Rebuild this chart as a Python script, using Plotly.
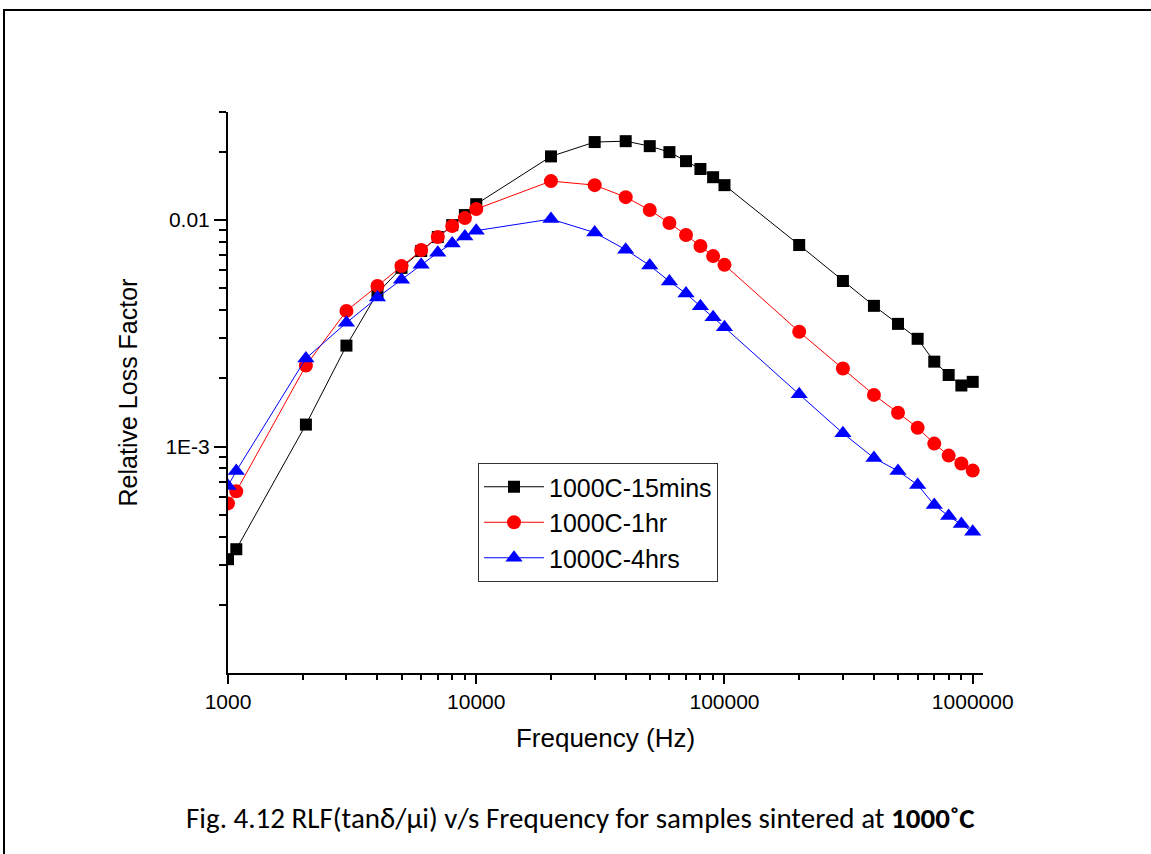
import plotly.graph_objects as go

freq = [1000, 1080, 2060, 3000, 4000, 5000, 6000, 7000, 8000, 9000, 10000,
        20000, 30000, 40000, 50000, 60000, 70000, 80000, 90000, 100000,
        200000, 300000, 400000, 500000, 600000, 700000, 800000, 900000, 1000000]

rlf_15min = [3.18e-4, 3.52e-4, 1.25e-3, 2.79e-3, 4.76e-3, 6.15e-3, 7.30e-3, 8.41e-3, 9.50e-3, 1.052e-2, 1.175e-2,
             1.91e-2, 2.21e-2, 2.23e-2, 2.12e-2, 1.995e-2, 1.82e-2, 1.68e-2, 1.546e-2, 1.426e-2,
             7.76e-3, 5.38e-3, 4.18e-3, 3.48e-3, 2.99e-3, 2.37e-3, 2.07e-3, 1.86e-3, 1.93e-3]

rlf_1hr = [5.61e-4, 6.34e-4, 2.28e-3, 3.97e-3, 5.12e-3, 6.26e-3, 7.38e-3, 8.41e-3, 9.41e-3, 1.02e-2, 1.118e-2,
           1.486e-2, 1.426e-2, 1.262e-2, 1.107e-2, 9.70e-3, 8.59e-3, 7.68e-3, 6.93e-3, 6.34e-3,
           3.21e-3, 2.21e-3, 1.69e-3, 1.41e-3, 1.21e-3, 1.03e-3, 9.12e-4, 8.41e-4, 7.83e-4]

rlf_4hrs = [6.70e-4, 7.80e-4, 2.45e-3, 3.52e-3, 4.55e-3, 5.45e-3, 6.35e-3, 7.18e-3, 7.88e-3, 8.45e-3, 8.98e-3,
            1.01e-2, 8.80e-3, 7.40e-3, 6.30e-3, 5.36e-3, 4.74e-3, 4.16e-3, 3.72e-3, 3.36e-3,
            1.70e-3, 1.145e-3, 8.90e-4, 7.80e-4, 6.77e-4, 5.52e-4, 4.93e-4, 4.55e-4, 4.20e-4]

series_names = ["1000C-15mins", "1000C-1hr", "1000C-4hrs"]

x_tickvals = [1000, 10000, 100000, 1000000]
x_ticktext = ["1000", "10000", "100000", "1000000"]
y_tickvals = [0.001, 0.01]
y_ticktext = ["1E-3", "0.01"]

caption = "Fig. 4.12 RLF(tanδ/μi) v/s Frequency for samples sintered at <b>1000˚C</b>"

FONT = "Liberation Sans, Arial, sans-serif"

fig = go.Figure()
fig.add_trace(go.Scatter(x=freq, y=rlf_15min, mode="lines+markers", name=series_names[0],
                         line=dict(color="black", width=1),
                         marker=dict(symbol="square", size=12, color="black")))
fig.add_trace(go.Scatter(x=freq, y=rlf_1hr, mode="lines+markers", name=series_names[1],
                         line=dict(color="#ff0000", width=1),
                         marker=dict(symbol="circle", size=14, color="#ff0000")))
fig.add_trace(go.Scatter(x=freq, y=rlf_4hrs, mode="lines+markers", name=series_names[2],
                         line=dict(color="#0000ff", width=1),
                         marker=dict(symbol="triangle-up", size=15, color="#0000ff")))

x_minor = [m * 10 ** e for e in (3, 4, 5) for m in range(2, 10)]
y_minor = [m * 10 ** e for e in (-4, -3) for m in range(2, 10)] + [0.02, 0.03]

fig.update_xaxes(type="log", range=[3, 6.0414], showline=True, linecolor="black", linewidth=2,
                 showgrid=False, zeroline=False, ticks="outside", ticklen=9, tickwidth=2,
                 tickcolor="black", tickvals=x_tickvals, ticktext=x_ticktext,
                 tickfont=dict(family=FONT, size=21, color="black"),
                 minor=dict(ticks="outside", ticklen=5, tickwidth=2, tickcolor="black",
                            tickvals=x_minor, showgrid=False),
                 title=dict(text="Frequency (Hz)", font=dict(family=FONT, size=26, color="black"),
                            standoff=17))
fig.update_yaxes(type="log", range=[-4, -1.5229], showline=True, linecolor="black", linewidth=2,
                 showgrid=False, zeroline=False, ticks="outside", ticklen=12, tickwidth=2,
                 tickcolor="black", tickvals=y_tickvals, ticktext=y_ticktext,
                 tickfont=dict(family=FONT, size=21, color="black"),
                 minor=dict(ticks="outside", ticklen=7, tickwidth=2, tickcolor="black",
                            tickvals=y_minor, showgrid=False),
                 title=dict(text="Relative Loss Factor", font=dict(family=FONT, size=25, color="black"),
                            standoff=21))

L, R, T, B = 228, 168, 112, 181
pw = 1151 - L - R
ph = 854 - T - B

def px_x(p):
    return (p - L) / pw

def px_y(p):
    return (854 - B - p) / ph

fig.add_shape(type="rect", xref="paper", yref="paper",
              x0=px_x(4), x1=px_x(1160), y0=px_y(10), y1=px_y(870),
              line=dict(color="black", width=2), fillcolor="rgba(0,0,0,0)", layer="below")

fig.add_annotation(text=caption, xref="paper", yref="paper", x=px_x(580), y=px_y(818),
                   xanchor="center", yanchor="middle", showarrow=False,
                   font=dict(family="Carlito, Liberation Sans Narrow, Liberation Sans, sans-serif",
                             size=29, color="black"))

fig.update_layout(width=1151, height=854, margin=dict(l=L, r=R, t=T, b=B),
                  plot_bgcolor="white", paper_bgcolor="white",
                  legend=dict(x=px_x(478), y=px_y(463), xanchor="left", yanchor="top",
                              bordercolor="#333333", borderwidth=1, bgcolor="white",
                              font=dict(family=FONT, size=25, color="black"),
                              itemwidth=60, tracegroupgap=0),
                  showlegend=True)

fig.write_html("out.html")
